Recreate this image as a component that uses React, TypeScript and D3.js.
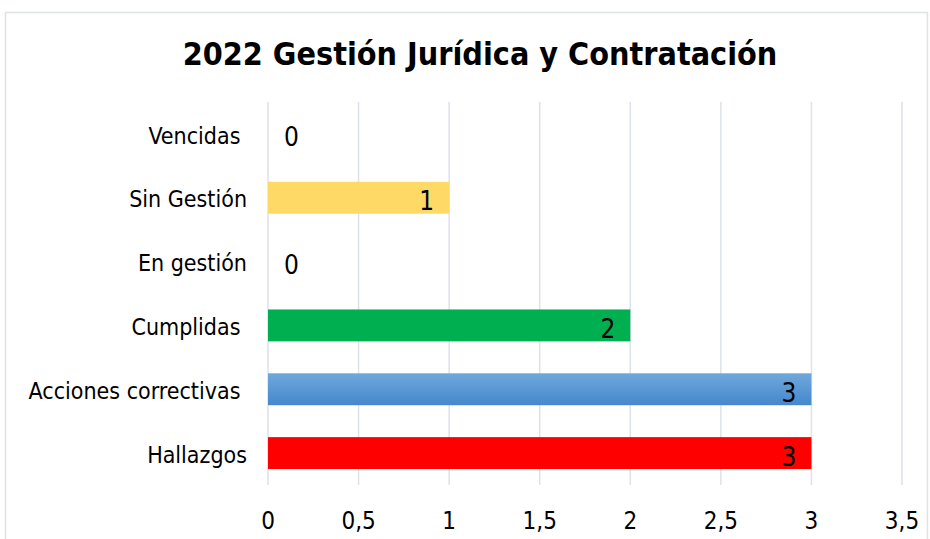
import React, { useEffect, useRef } from 'react';
import * as d3 from 'd3';

const categories = ['Vencidas ', 'Sin Gestión', 'En gestión', 'Cumplidas ', 'Acciones correctivas ', 'Hallazgos'];
const values = [0, 1, 0, 2, 3, 3];
const barColors = ['#FFD966', '#FFD966', '#FFD966', '#00B050', 'url(#blueGrad)', '#FF0000'];
const xTicks = [0, 0.5, 1, 1.5, 2, 2.5, 3, 3.5];
const title = '2022 Gestión Jurídica y Contratación';

const App = () => {
    const svgRef = useRef<SVGSVGElement>(null);

    useEffect(() => {
        const width = 930;
        const height = 539;
        const margin = { top: 102, right: 28, bottom: 54, left: 268 };

        const svg = d3.select(svgRef.current);
        svg.selectAll('*').remove();
        svg.attr('width', width).attr('height', height);

        const defs = svg.append('defs');
        const grad = defs.append('linearGradient')
            .attr('id', 'blueGrad')
            .attr('x1', 0).attr('y1', 0).attr('x2', 0).attr('y2', 1);
        grad.append('stop').attr('offset', '0%').attr('stop-color', '#6FA8DC');
        grad.append('stop').attr('offset', '100%').attr('stop-color', '#4588CC');

        // marco del gráfico
        svg.append('rect')
            .attr('x', 5.5).attr('y', 12.5)
            .attr('width', 922).attr('height', 560)
            .attr('fill', 'white')
            .attr('stroke', '#DDE2EA')
            .attr('stroke-width', 1.5);

        const font = '"DejaVu Sans Condensed", "DejaVu Sans", sans-serif';

        svg.append('text')
            .attr('x', 480)
            .attr('y', 65)
            .attr('text-anchor', 'middle')
            .style('font-family', font)
            .style('font-weight', 'bold')
            .style('font-size', '32px')
            .style('fill', '#000')
            .text(title);

        const x = d3.scaleLinear().domain([0, 3.5]).range([margin.left, width - margin.right]);
        const y = d3.scaleBand<string>()
            .domain(categories)
            .range([margin.top, height - margin.bottom])
            .paddingInner(0.5)
            .paddingOuter(0.25);

        // líneas de cuadrícula
        svg.append('g')
            .selectAll('line')
            .data(xTicks)
            .enter()
            .append('line')
            .attr('x1', (d) => x(d))
            .attr('x2', (d) => x(d))
            .attr('y1', margin.top)
            .attr('y2', height - margin.bottom)
            .attr('stroke', '#DDE2EA')
            .attr('stroke-width', 1.5);

        // barras
        svg.append('g')
            .selectAll('rect')
            .data(values)
            .enter()
            .append('rect')
            .attr('x', x(0))
            .attr('y', (_, i) => y(categories[i]) as number)
            .attr('width', (d) => x(d) - x(0))
            .attr('height', y.bandwidth())
            .attr('fill', (_, i) => barColors[i]);

        // etiquetas de valores
        svg.append('g')
            .selectAll('text')
            .data(values)
            .enter()
            .append('text')
            .attr('x', (d) => (d > 0 ? x(d) - 15 : x(0) + 16))
            .attr('y', (_, i) => (y(categories[i]) as number) + y.bandwidth() / 2)
            .attr('dy', '0.48em')
            .attr('text-anchor', (d) => (d > 0 ? 'end' : 'start'))
            .style('font-family', font)
            .style('font-size', '26px')
            .style('fill', '#000')
            .text((d) => d);

        // etiquetas de categorías
        svg.append('g')
            .selectAll('text')
            .data(categories)
            .enter()
            .append('text')
            .attr('x', 247)
            .attr('y', (d) => (y(d) as number) + y.bandwidth() / 2)
            .attr('dy', '0.42em')
            .attr('text-anchor', 'end')
            .style('white-space', 'pre')
            .style('font-family', font)
            .style('font-size', '23px')
            .style('fill', '#000')
            .text((d) => d);

        // eje x
        svg.append('g')
            .selectAll('text')
            .data(xTicks)
            .enter()
            .append('text')
            .attr('x', (d) => x(d))
            .attr('y', 520)
            .attr('dy', '0.36em')
            .attr('text-anchor', 'middle')
            .style('font-family', font)
            .style('font-size', '24px')
            .style('fill', '#000')
            .text((d) => String(d).replace('.', ','));
    }, []);

    return <svg ref={svgRef} style={{ position: 'absolute', left: 0, top: 0, display: 'block' }}></svg>;
};

export default App;
